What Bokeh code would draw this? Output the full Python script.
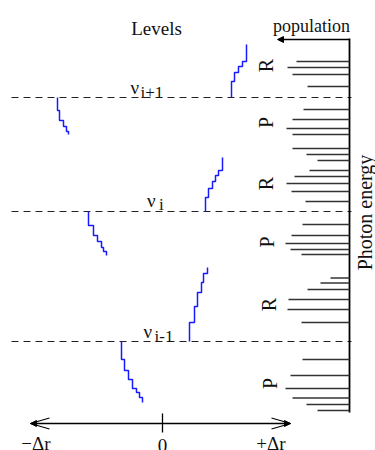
import math
from bokeh.plotting import figure
from bokeh.models import Range1d, Arrow, NormalHead
from bokeh.core.properties import value
from bokeh.embed import file_html
from bokeh.resources import INLINE

# ---------------- data (energy increases upward) ----------------
level_energy = [353, 239, 109]            # nu_{i+1}, nu_i, nu_{i-1}
level_subscripts = ["i+1", "i", "i-1"]

# R-branch staircases: x of each vertical run, energies of the breakpoints
R_branch_x = [[231, 234, 238, 242, 246],
              [205, 208, 212, 215, 218, 222],
              [189, 194, 197, 201, 203, 207]]
R_branch_e = [[353, 369, 378, 384, 389, 406],
              [239, 253, 262, 269, 275, 280, 293],
              [109, 128, 144, 158, 168, 177, 183]]
# P-branch staircases
P_branch_x = [[57, 59, 63, 66, 68],
              [88, 93, 97, 101, 103, 106],
              [121, 124, 128, 132, 136, 139, 142]]
P_branch_e = [[353, 340, 330, 324, 319, 316],
              [239, 225, 215, 209, 203, 199, 195],
              [109, 91, 80, 71, 62, 58, 53, 48]]

# population spectrum (energy of each line, population length)
bar_energy = [389, 383, 376, 364, 341, 331, 322, 316, 302, 296, 290, 280, 274,
              267, 259, 249, 226, 215, 207, 201, 196, 172.5, 167.5, 161, 151,
              141, 128, 91, 75, 62, 52.5, 46, 40]
bar_population = [53, 62, 57, 42, 46, 57, 63, 57, 57, 43, 32, 40, 55,
                  63, 58, 44, 47, 58, 64, 59, 48, 19, 29, 42, 61,
                  62, 48, 47, 59, 64, 57, 43, 32]

branch_labels = ["R", "P", "R", "P", "R", "P"]
branch_label_e = [385, 328, 267, 208.5, 146, 67]
branch_label_x = [265.5, 265.5, 265, 266, 268, 269.5]

dr_ticks = ["−Δr", "0", "+Δr"]

# ---------------- figure ----------------
FONT = value("Liberation Serif")
p = figure(width=375, height=450, x_range=Range1d(0, 375), y_range=Range1d(0, 450),
           output_backend="svg", toolbar_location=None, min_border=0,
           x_axis_location=None, y_axis_location=None)
p.grid.visible = False
p.outline_line_color = None
p.background_fill_color = "white"
p.border_fill_color = "white"

# dashed energy levels
p.segment(x0=[11] * 3, y0=level_energy, x1=[351] * 3, y1=level_energy,
          line_color="#222222", line_width=1.2, line_dash="7 5")

# staircase curves
def stair(xs, es):
    px, py = [], []
    for k, x in enumerate(xs):
        px += [x, x]
        py += [es[k], es[k + 1]]
    return px, py

blue = "#1a1aff"
for xs, es in list(zip(R_branch_x, R_branch_e)) + list(zip(P_branch_x, P_branch_e)):
    sx, sy = stair(xs, es)
    p.line(sx, sy, line_color=blue, line_width=1.5)

# population axis
axis_x = 349
p.segment(x0=[axis_x], y0=[38], x1=[axis_x], y1=[412], line_color="black", line_width=1.8)
p.add_layout(Arrow(x_start=axis_x, y_start=411, x_end=277, y_end=411,
                   line_color="black", line_width=1.5,
                   end=NormalHead(size=6, fill_color="black", line_color="black")))
p.segment(x0=[axis_x - v for v in bar_population], y0=bar_energy,
          x1=[axis_x] * len(bar_energy), y1=bar_energy,
          line_color="#333333", line_width=1.6)

# Δr axis
ax_e, ax_l, ax_r, zero_x = 27, 30, 290, 162
p.add_layout(Arrow(x_start=ax_l, y_start=ax_e, x_end=ax_r, y_end=ax_e,
                   line_color="black", line_width=1.4,
                   start=NormalHead(size=6, fill_color="black", line_color="black"),
                   end=NormalHead(size=6, fill_color="black", line_color="black")))
p.segment(x0=[ax_l, ax_l, ax_r, ax_r], y0=[ax_e] * 4,
          x1=[ax_l + 19, ax_l + 19, ax_r - 19, ax_r - 19],
          y1=[ax_e + 5.5, ax_e - 5.5, ax_e + 5.5, ax_e - 5.5],
          line_color="black", line_width=1.1)
p.segment(x0=[zero_x], y0=[37], x1=[zero_x], y1=[18], line_color="black", line_width=1.3)

# texts
txt = dict(text_font=FONT, text_color="#111111")
p.text(x=[156], y=[422], text=["Levels"], text_align="center",
       text_baseline="alphabetic", text_font_size="19px", **txt)
p.text(x=[311], y=[425], text=["population"], text_align="center",
       text_baseline="alphabetic", text_font_size="18px", **txt)
p.text(x=[364.5], y=[238], text=["Photon energy"], angle=math.pi / 2,
       text_align="center", text_baseline="middle", text_font_size="20px", **txt)
p.text(x=branch_label_x, y=branch_label_e, text=branch_labels, angle=math.pi / 2,
       text_align="center", text_baseline="middle", text_font_size="20px", **txt)

nu_x = [130, 146.5, 143]
nu_off = [10, 11.5, 10]
sub_x = [140, 158.5, 154]
sub_off = [5, 7.5, 5]
p.text(x=nu_x, y=[e + o for e, o in zip(level_energy, nu_off)], text=["ν"] * 3,
       text_align="left", text_baseline="alphabetic", text_font_size="19px", **txt)
p.text(x=sub_x, y=[e + o for e, o in zip(level_energy, sub_off)], text=level_subscripts,
       text_align="left", text_baseline="alphabetic", text_font_size="17px", **txt)

p.text(x=[35.5, 270.5], y=[7, 7], text=[dr_ticks[0], dr_ticks[2]], text_align="center",
       text_baseline="alphabetic", text_font_size="19px", **txt)
p.text(x=[zero_x], y=[12], text=[dr_ticks[1]], text_align="center",
       text_baseline="top", text_font_size="19px", **txt)

open("out.html", "w").write(file_html(p, INLINE))
